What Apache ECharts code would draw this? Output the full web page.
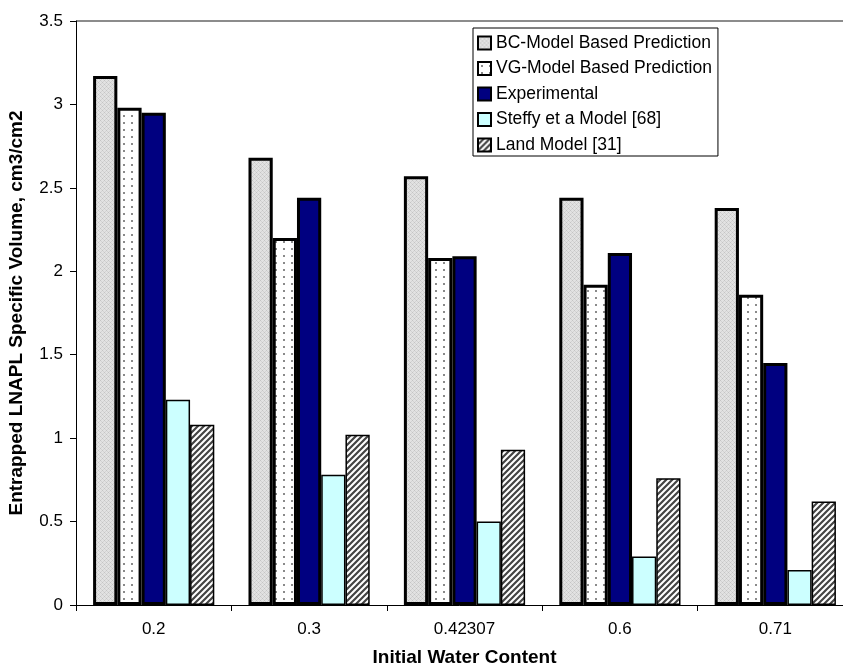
<!DOCTYPE html>
<html>
<head>
<meta charset="utf-8">
<script src="https://cdn.jsdelivr.net/npm/echarts@6/dist/echarts.min.js"></script>
<style>html,body{margin:0;padding:0;background:#fff}#c{width:843px;height:667px}</style>
</head>
<body>
<div id="c"></div>
<script>
const categories = ['0.2', '0.3', '0.42307', '0.6', '0.71'];
const bcModel = [3.17, 2.68, 2.57, 2.44, 2.38];
const vgModel = [2.98, 2.20, 2.08, 1.92, 1.86];
const experimental = [2.95, 2.44, 2.09, 2.11, 1.45];
const steffyModel = [1.23, 0.78, 0.50, 0.29, 0.21];
const landModel = [1.08, 1.02, 0.93, 0.76, 0.62];
const seriesNames = ['BC-Model Based Prediction', 'VG-Model Based Prediction', 'Experimental', 'Steffy et a Model [68]', 'Land Model [31]'];
const yTicks = { min: 0, max: 3.5, interval: 0.5 };

function makePattern(w, h, draw) {
  const c = document.createElement('canvas');
  c.width = w; c.height = h;
  const ctx = c.getContext('2d');
  draw(ctx, w, h);
  return { image: c, repeat: 'repeat' };
}
const crossHatch = makePattern(4, 4, (ctx) => {
  ctx.fillStyle = '#e2e2e2'; ctx.fillRect(0, 0, 4, 4);
  ctx.fillStyle = '#c4c4c4';
  ctx.fillRect(0, 0, 1, 1); ctx.fillRect(2, 2, 1, 1);
  ctx.fillStyle = '#d3d3d3';
  ctx.fillRect(1, 1, 1, 1); ctx.fillRect(3, 3, 1, 1); ctx.fillRect(1, 3, 1, 1); ctx.fillRect(3, 1, 1, 1);
});
const dots = makePattern(8, 7, (ctx) => {
  ctx.fillStyle = '#ffffff'; ctx.fillRect(0, 0, 8, 7);
  ctx.fillStyle = '#8a8a8a'; ctx.fillRect(3, 3, 2, 2);
});
const stripes = makePattern(6, 6, (ctx) => {
  ctx.fillStyle = '#ffffff'; ctx.fillRect(0, 0, 6, 6);
  ctx.strokeStyle = '#444444'; ctx.lineWidth = 2.2;
  ctx.beginPath();
  ctx.moveTo(-1, 7); ctx.lineTo(7, -1);
  ctx.moveTo(-4, 4); ctx.lineTo(4, -4);
  ctx.moveTo(2, 10); ctx.lineTo(10, 2);
  ctx.stroke();
});

const fills = [crossHatch, dots, '#000080', '#ccffff', stripes];
const borders = [3, 3, 3, 1.5, 1.5];
const dataSets = [bcModel, vgModel, experimental, steffyModel, landModel];

const font = '"Liberation Sans", Arial, sans-serif';
const chart = echarts.init(document.getElementById('c'), null, { renderer: 'canvas' });
const splitColors = [];
for (let i = 0; i < 7; i++) splitColors.push('rgba(0,0,0,0)');
splitColors.push('#8c8c8c');

chart.setOption({
  animation: false,
  backgroundColor: '#ffffff',
  textStyle: { fontFamily: font },
  grid: { left: 76, width: 777, top: 21, height: 584, containLabel: false, outerBoundsMode: 'none' },
  legend: {
    orient: 'vertical',
    left: 473, top: 28,
    padding: [5, 6, 1, 4],
    itemGap: 5.5,
    itemWidth: 13, itemHeight: 13,
    icon: 'rect',
    backgroundColor: '#ffffff',
    borderColor: '#000000', borderWidth: 1,
    textStyle: { fontFamily: font, fontSize: 17.5, color: '#000', lineHeight: 20 },
    data: seriesNames
  },
  xAxis: {
    type: 'category',
    data: categories,
    name: 'Initial Water Content',
    nameLocation: 'middle',
    nameGap: 43,
    nameTextStyle: { fontFamily: font, fontSize: 19, fontWeight: 'bold', color: '#000' },
    axisLine: { lineStyle: { color: '#000', width: 1 } },
    axisTick: { show: true, length: 6, lineStyle: { color: '#000' } },
    axisLabel: { fontFamily: font, fontSize: 17, color: '#000', margin: 16 },
    splitLine: { show: false }
  },
  yAxis: {
    type: 'value',
    min: yTicks.min, max: yTicks.max, interval: yTicks.interval,
    name: 'Entrapped LNAPL Specific Volume, cm3/cm2',
    nameLocation: 'middle',
    nameGap: 49.5,
    nameTextStyle: { fontFamily: font, fontSize: 19, fontWeight: 'bold', color: '#000' },
    axisLine: { show: true, lineStyle: { color: '#000', width: 1 } },
    axisTick: { show: true, length: 6, inside: false, lineStyle: { color: '#000' } },
    axisLabel: { fontFamily: font, fontSize: 17, color: '#000', margin: 13 },
    splitLine: { show: true, lineStyle: { color: splitColors, width: 2 } }
  },
  series: seriesNames.map((name, i) => ({
    name,
    type: 'bar',
    data: dataSets[i],
    barGap: '0%',
    barCategoryGap: '22%',
    itemStyle: { color: fills[i], borderColor: '#000', borderWidth: borders[i] },
    emphasis: { disabled: true }
  }))
});
</script>
</body>
</html>
